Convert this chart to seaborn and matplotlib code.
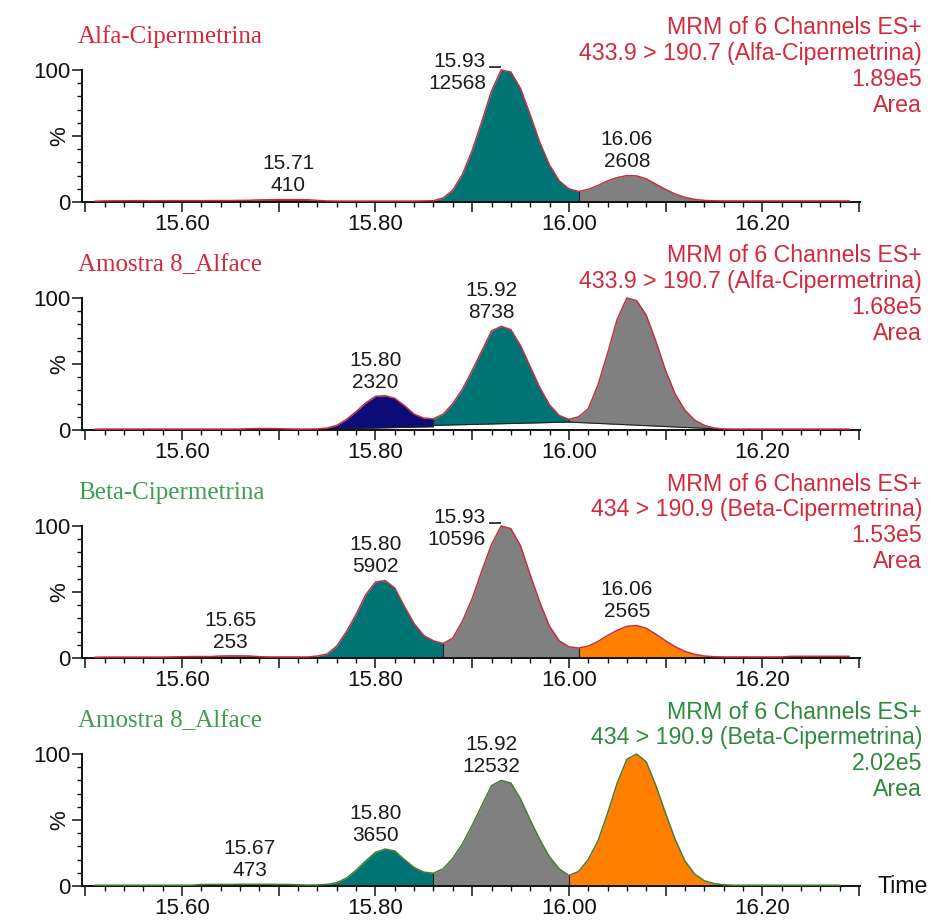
import numpy as np
import pandas as pd
import matplotlib
matplotlib.use("Agg")
import matplotlib.pyplot as plt
import matplotlib.transforms as mtrans
from matplotlib.ticker import FixedLocator, MultipleLocator, FuncFormatter
import seaborn as sns

# ---------------- data ----------------
time_123 = np.round(np.arange(15.51, 16.2951, 0.01), 2)   # 15.51 .. 16.29
time_4 = np.round(np.arange(15.51, 16.2851, 0.01), 2)     # 15.51 .. 16.28

alfa_std = [0.6, 0.8, 0.9, 0.9, 1.0, 1.0, 0.9, 1.0, 1.0, 1.0,
            1.0, 1.0, 1.1, 1.1, 1.1, 1.2, 1.3, 1.6, 1.7, 1.8,
            1.8, 1.8, 1.7, 1.2, 0.8, 0.7, 0.7, 0.7, 0.7, 0.7,
            0.7, 0.7, 0.7, 0.7, 0.8, 1.0, 3, 9, 21, 39,
            61, 84, 100, 98.5, 86, 66, 45, 28, 16, 10,
            8, 9.5, 12.5, 16, 18.5, 20, 19.8, 17.5, 13.5, 9.5,
            6, 3.5, 2, 1.2, 0.9, 0.8, 0.8, 0.8, 0.8, 0.8,
            0.8, 0.8, 0.8, 0.8, 0.8, 0.8, 0.8, 0.8, 0.8]

alfa_sample = [0.6, 0.7, 0.7, 0.7, 0.7, 0.7, 0.7, 0.7, 0.7, 0.7,
               0.7, 0.7, 0.7, 0.7, 0.7, 0.7, 1.0, 1.1, 1.1, 1.0,
               0.8, 0.7, 0.7, 0.8, 1.5, 3.5, 8, 14, 20.5, 25.5,
               26, 24, 18.5, 12, 9, 8.5, 12, 20, 31, 45,
               60, 75, 78.5, 76, 64, 48, 32, 19, 11, 8,
               10, 16, 34, 58, 84, 100, 98, 87, 67, 45,
               27, 15, 7.5, 3.5, 1.5, 0.8, 0.7, 0.7, 0.7, 0.7,
               0.7, 0.7, 0.7, 0.7, 0.7, 0.7, 0.7, 0.7, 0.7]

beta_std = [0.6, 0.7, 0.7, 0.7, 0.7, 0.7, 0.7, 0.7, 0.8, 1.0,
            1.1, 1.1, 1.1, 1.5, 1.6, 1.6, 1.5, 1.0, 0.8, 0.8,
            0.8, 0.8, 0.8, 1.5, 3, 9, 20, 33, 48, 57.5,
            58.7, 53, 39, 26, 17, 13, 11, 15, 28, 45,
            66, 86, 100, 98, 85, 63, 42, 24, 13, 8.5,
            7.5, 9, 12.5, 17, 21, 24, 24.6, 22.5, 18, 13,
            8.5, 5, 2.8, 1.5, 1.0, 0.8, 0.8, 0.8, 0.8, 0.8,
            0.8, 0.8, 1.3, 1.3, 1.3, 1.3, 1.3, 1.3, 1.3]

beta_sample = [0.6, 0.6, 0.6, 0.6, 0.6, 0.6, 0.6, 0.6, 0.6, 0.6,
               0.6, 1.1, 1.2, 1.2, 1.2, 1.3, 1.3, 1.3, 1.3, 1.2,
               1.2, 0.9, 0.7, 0.8, 1.2, 2.5, 6, 12, 19, 25.5,
               28, 26.5, 20, 14, 10.5, 9.7, 13, 21, 32, 46,
               61, 76, 80, 78, 66, 50, 35, 22, 13, 8,
               11, 20, 34, 55, 78, 96, 100, 94, 76, 55,
               35, 19, 9, 4, 1.8, 0.9, 0.6, 0.6, 0.6, 0.6,
               0.6, 0.6, 0.6, 0.6, 0.6, 0.6, 0.6, 0.6]

# integrated peaks: start, end, baseline at start / end, fill colour
p1_start = [15.52, 15.68, 15.86, 16.01]
p1_end = [15.68, 15.74, 16.01, 16.14]
p1_base0 = [0.3, 0.3, 0.4, 0.4]
p1_base1 = [0.3, 0.3, 0.4, 0.4]
p1_fill = ["#8c1a26", "#5a0a14", "#007474", "#808080"]

p2_start = [15.67, 15.74, 15.86, 16.00]
p2_end = [15.71, 15.86, 16.00, 16.16]
p2_base0 = [0.4, 0.5, 3.5, 6.0]
p2_base1 = [0.4, 2.5, 6.0, 0.6]
p2_fill = ["#c85060", "#0c0c78", "#007474", "#808080"]

p3_start = [15.60, 15.74, 15.87, 16.01]
p3_end = [15.68, 15.87, 16.01, 16.15]
p3_base0 = [0.4, 0.4, 0.4, 0.4]
p3_base1 = [0.4, 0.4, 0.4, 0.4]
p3_fill = ["#5a0a14", "#007474", "#808080", "#ff8000"]

p4_start = [15.62, 15.74, 15.86, 16.00]
p4_end = [15.72, 15.86, 16.00, 16.16]
p4_base0 = [0.4, 0.4, 0.4, 0.4]
p4_base1 = [0.4, 0.4, 0.4, 0.4]
p4_fill = ["#3b3b2a", "#007474", "#808080", "#ff8000"]

# peak annotations: retention time and area
p1_rt = ["15.71", "15.93", "16.06"]
p1_area = ["410", "12568", "2608"]
p2_rt = ["15.80", "15.92"]
p2_area = ["2320", "8738"]
p3_rt = ["15.65", "15.80", "15.93", "16.06"]
p3_area = ["253", "5902", "10596", "2565"]
p4_rt = ["15.67", "15.80", "15.92"]
p4_area = ["473", "3650", "12532"]

titles = ["Alfa-Cipermetrina", "Amostra 8_Alface", "Beta-Cipermetrina", "Amostra 8_Alface"]
header_scan = ["MRM of 6 Channels ES+"] * 4
header_trans = ["433.9 > 190.7 (Alfa-Cipermetrina)", "433.9 > 190.7 (Alfa-Cipermetrina)",
                "434 > 190.9 (Beta-Cipermetrina)", "434 > 190.9 (Beta-Cipermetrina)"]
header_max = ["1.89e5", "1.68e5", "1.53e5", "2.02e5"]
header_mode = ["Area"] * 4

RED_T = "#d4283c"
GREEN_T = "#3c9e50"
GREEN_H = "#2f8a3c"
title_colors = [RED_T, RED_T, GREEN_T, GREEN_T]
header_colors = [RED_T, RED_T, RED_T, GREEN_H]
trace_colors = ["#c43040", "#c43040", "#c43040", "#4b7a36"]

# ---------------- drawing ----------------
sns.set_style("ticks")
plt.rcParams["font.family"] = ["Liberation Sans", "DejaVu Sans"]

W, H = 930, 921
fig = plt.figure(figsize=(W / 100, H / 100), dpi=100)

panels = [
    (time_123, alfa_std, p1_start, p1_end, p1_base0, p1_base1, p1_fill, p1_rt, p1_area),
    (time_123, alfa_sample, p2_start, p2_end, p2_base0, p2_base1, p2_fill, p2_rt, p2_area),
    (time_123, beta_std, p3_start, p3_end, p3_base0, p3_base1, p3_fill, p3_rt, p3_area),
    (time_4, beta_sample, p4_start, p4_end, p4_base0, p4_base1, p4_fill, p4_rt, p4_area),
]

AX_L, AX_R = 82, 860
HDR_FS = 16.7
LBL_FS = 15
TICK_FS = 16
LABEL_C = "#1c1c1c"

for i, (t, v, st, en, b0, b1, fc, rts, areas) in enumerate(panels):
    y0 = 202 + 228 * i
    ax = fig.add_axes([AX_L / W, 1 - y0 / H, (AX_R - AX_L) / W, 132 / H])
    t = np.asarray(t, dtype=float)
    v = np.asarray(v, dtype=float)

    # peak fills
    for s, e, bs, be, c in zip(st, en, b0, b1, fc):
        m = (t >= s - 1e-9) & (t <= e + 1e-9)
        base = np.interp(t[m], [s, e], [bs, be])
        ax.fill_between(t[m], base, v[m], color=c, linewidth=0, zorder=1)
        if i == 1:
            ax.plot(t[m], base, color="#202020", linewidth=0.8, zorder=2)
    # split lines between touching peaks
    for e, s2, bs in zip(en[:-1], st[1:], b0[1:]):
        if abs(e - s2) < 1e-9:
            top = np.interp(s2, t, v)
            ax.vlines(s2, bs, top, color="#202020", linewidth=0.8, zorder=2)

    df = pd.DataFrame({"time": t, "intensity": v})
    sns.lineplot(data=df, x="time", y="intensity", ax=ax, color=trace_colors[i],
                 linewidth=1.1, estimator=None, sort=False, legend=False, zorder=3)
    for ln in ax.lines:
        ln.set_clip_on(False)

    ax.set_xlim(15.4966, 16.301)
    ax.set_ylim(0, 100)
    ax.set_xlabel("")
    ax.set_ylabel("")
    sns.despine(ax=ax)
    for sp in ("left", "bottom"):
        ax.spines[sp].set_linewidth(1.4)
        ax.spines[sp].set_color("#111111")

    ax.xaxis.set_major_locator(FixedLocator(np.round(np.arange(15.5, 16.31, 0.1), 2)))
    ax.xaxis.set_minor_locator(MultipleLocator(0.02))
    ax.xaxis.set_major_formatter(FuncFormatter(
        lambda x, p: f"{x:.2f}" if int(round(x * 10)) % 2 == 0 else ""))
    ax.set_yticks([0, 50, 100])
    ax.set_yticklabels(["0", "%", "100"])
    ax.yaxis.set_minor_locator(MultipleLocator(10))
    ax.tick_params(axis="both", which="major", direction="out", length=7.5, width=1.1,
                   colors="#111111", labelsize=TICK_FS)
    ax.tick_params(axis="x", which="major", pad=1.2)
    ax.tick_params(axis="y", which="major", pad=1)
    ax.tick_params(axis="both", which="minor", direction="out", length=3.8, width=1.0,
                   colors="#111111")
    ax.get_yticklabels()[1].set_rotation(90)
    ax.get_yticklabels()[1].set_va("center")

    # peak labels
    for rt, area in zip(rts, areas):
        x = float(rt)
        m = (t >= x - 0.012) & (t <= x + 0.012)
        apex = v[m].max()
        if apex > 90:
            ax.annotate(f"{rt}\n{area}", xy=(x, apex), xytext=(-11, -1.5),
                        textcoords="offset points", ha="right", va="center",
                        fontsize=LBL_FS, color=LABEL_C, linespacing=1.2,
                        annotation_clip=False)
            off = mtrans.offset_copy(ax.transData, fig=fig, x=-4.5, y=2.5, units="points")
            ax.plot([x], [apex], marker="_", markersize=9, markeredgewidth=1.2,
                    color=LABEL_C, transform=off, clip_on=False)
        else:
            ax.annotate(f"{rt}\n{area}", xy=(x, apex), xytext=(0, 3),
                        textcoords="offset points", ha="center", va="bottom",
                        fontsize=LBL_FS, color=LABEL_C, linespacing=1.2,
                        annotation_clip=False)

    # title (left) and header (right)
    fig.text(78 / W, 1 - (y0 - 165) / H, titles[i], ha="left", va="center",
             family=["Liberation Serif", "DejaVu Serif"], fontsize=18, color=title_colors[i])
    lines = [header_scan[i], header_trans[i], header_max[i], header_mode[i]]
    for k, txt in enumerate(lines):
        fig.text(922 / W, 1 - (y0 - 174 + 25.7 * k) / H, txt, ha="right", va="center",
                 fontsize=HDR_FS, color=header_colors[i])

fig.text(877 / W, 1 - 886 / H, "Time", ha="left", va="center", fontsize=HDR_FS, color="#111111")

fig.savefig("out.png", dpi=100, facecolor="white")
